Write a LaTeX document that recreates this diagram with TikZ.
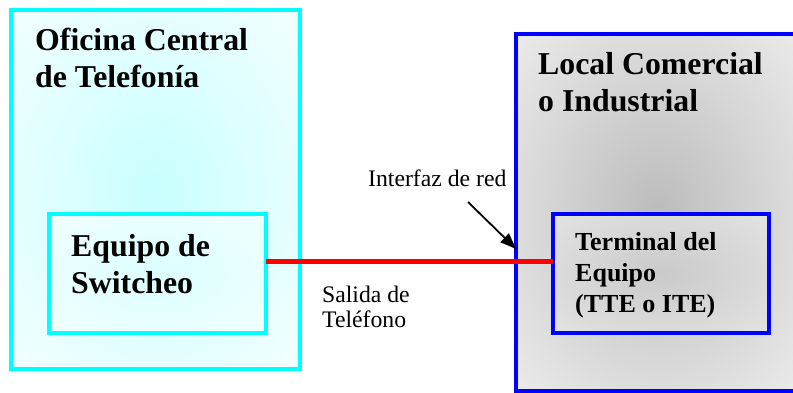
\documentclass[tikz,border=0pt]{standalone}
\usepackage{fontspec}
\setmainfont{Liberation Serif}
\usetikzlibrary{calc,arrows.meta}
\definecolor{cyanline}{RGB}{0,255,255}
\definecolor{blueline}{RGB}{0,0,255}
\definecolor{redline}{RGB}{255,0,0}
\definecolor{cyanin}{RGB}{200,255,255}
\definecolor{cyanout}{RGB}{242,255,255}
\definecolor{cyanin2}{RGB}{220,255,255}
\definecolor{cyanout2}{RGB}{240,255,255}
\definecolor{greyin}{RGB}{188,188,188}
\definecolor{greyout}{RGB}{233,233,233}
\definecolor{greyin2}{RGB}{202,202,202}
\definecolor{greyout2}{RGB}{226,226,226}
\pgfdeclareradialshading{softcyan}{\pgfpoint{0bp}{0bp}}{color(0bp)=(cyanin); color(34bp)=(cyanout); color(50bp)=(cyanout)}
\pgfdeclareradialshading{softcyantwo}{\pgfpoint{0bp}{0bp}}{color(0bp)=(cyanin2); color(34bp)=(cyanout2); color(50bp)=(cyanout2)}
\pgfdeclareradialshading{softgrey}{\pgfpoint{0bp}{0bp}}{color(0bp)=(greyin); color(34bp)=(greyout); color(50bp)=(greyout)}
\pgfdeclareradialshading{softgreytwo}{\pgfpoint{0bp}{0bp}}{color(0bp)=(greyin2); color(34bp)=(greyout2); color(50bp)=(greyout2)}
\begin{document}
\begin{tikzpicture}[x=1pt,y=-1pt,
  box/.style={shape=rectangle, inner sep=0pt, outer sep=0pt, anchor=north west},
  outerbox/.style={box, draw, line width=4pt},
  innerbox/.style={box, draw, line width=3.5pt},
  bigtitle/.style={inner sep=0pt, anchor=base west, align=left, font=\bfseries\fontsize{31.8}{37}\selectfont},
  midtitle/.style={inner sep=0pt, anchor=base west, align=left, font=\bfseries\fontsize{26}{31}\selectfont},
  plainlabel/.style={inner sep=0pt, anchor=base west, align=left, font=\fontsize{23.7}{25.5}\selectfont},
  wire/.style={draw=redline, line width=5pt},
  pointer/.style={draw=black, line width=1.8pt, -{Triangle[length=16pt,width=12pt]}}
]
\useasboundingbox (0,0) rectangle (793,393);
\clip (0,0) rectangle (793,393);
\fill[white] (0,0) rectangle (793,393);

% outer boxes
\node[outerbox, draw=cyanline, shading=softcyan,
      minimum width=289pt, minimum height=359pt] (oc) at (11,10) {};
\node[outerbox, draw=blueline, shading=softgrey,
      minimum width=282pt, minimum height=357pt] (lc) at (516,34) {};

% inner boxes
\node[innerbox, draw=cyanline, shading=softcyantwo,
      minimum width=217pt, minimum height=119pt] (eq) at (49,214) {};
\node[innerbox, draw=blueline, shading=softgreytwo,
      minimum width=216pt, minimum height=119pt] (tte) at (553,214) {};

% titles (anchor = baseline of last line)
\node[bigtitle] (octxt) at (35,88) {Oficina Central\\de Telefonía};
\node[bigtitle] (lctxt) at (538,112) {Local Comercial\\o Industrial};
\node[bigtitle] (eqtxt) at (71,293) {Equipo de\\Switcheo};
\node[midtitle] (ttetxt) at (575,312) {Terminal del\\Equipo\\(TTE o ITE)};

% labels
\node[plainlabel] (ifz) at (368,186) {Interfaz de red};
\node[plainlabel] (sal) at (322,327.5) {Salida de\\Teléfono};

% connectors
\draw[wire] ($(eq.north east)!0.403!(eq.south east)$) -- ($(tte.north west)!0.403!(tte.south west)$);
\coordinate (arrstart) at (468,202);
\draw[pointer] (arrstart) -- ($(lc.north west)!0.602!(lc.south west)$);
\end{tikzpicture}
\end{document}
